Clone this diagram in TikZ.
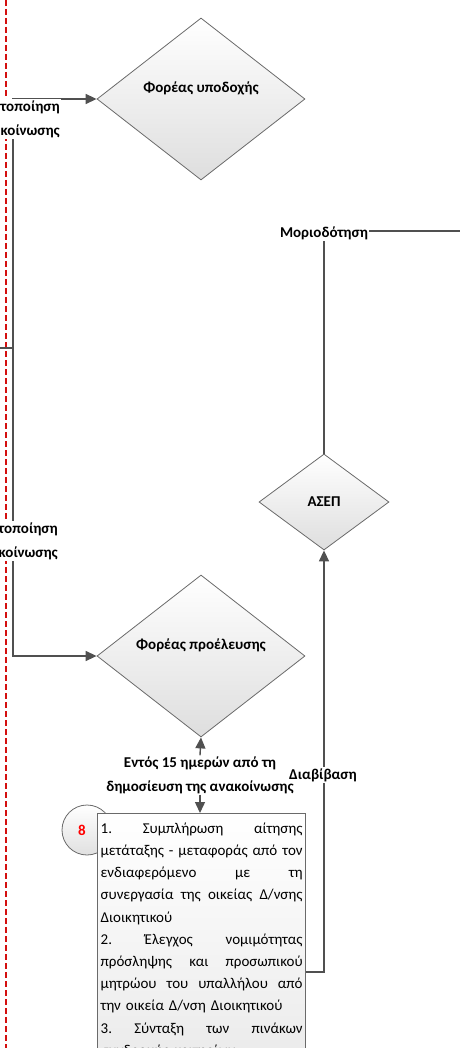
\documentclass[tikz,border=0pt]{standalone}
\usepackage{fontspec}
\setmainfont{Carlito}
\usetikzlibrary{shapes.geometric,arrows.meta,positioning}
\definecolor{linegray}{HTML}{505050}
\definecolor{edgegray}{HTML}{6A6A6A}
\definecolor{lanered}{HTML}{D41010}
\newcommand{\jrow}[1]{\leavevmode\hbox to 202pt{#1}}

\tikzset{
  decision/.style={diamond, draw=edgegray, line width=0.8pt, top color=white, bottom color=black!13, inner sep=0pt},
  lbl/.style={font=\bfseries\fontsize{15}{24}\selectfont, align=center, inner sep=1pt},
  flow/.style={draw=linegray, line width=1.4pt},
  arr/.style={flow, -{Triangle[length=11pt,width=10pt]}},
  taskbox/.style={draw=edgegray, line width=1.3pt, top color=white, bottom color=black!9, text width=202pt, inner xsep=3pt, inner ysep=9pt, align=left, font=\fontsize{15}{22.2}\selectfont},
  marker/.style={circle, draw=edgegray, line width=0.8pt, top color=white, bottom color=black!12, minimum size=50pt, inner sep=0pt},
  lane/.style={draw=lanered, line width=2pt, dash pattern=on 6pt off 3pt}
}

\begin{document}
\begin{tikzpicture}[x=1pt,y=-1pt]
\useasboundingbox (0,0) rectangle (460,1048);

% lane border
\coordinate (laneTop) at (6,0);
\coordinate (laneBot) at (6,1048);
\draw[lane] (laneTop) -- (laneBot);

% decisions
\node[decision, minimum width=208pt, minimum height=162pt, label={[lbl, yshift=11pt]center:Φορέας υποδοχής}] (recv) at (201,99) {};
\node[decision, minimum width=208pt, minimum height=162pt, label={[lbl, yshift=11pt]center:Φορέας προέλευσης}] (orig) at (201,656) {};
\node[decision, minimum width=130pt, minimum height=96pt, font=\bfseries\fontsize{15}{18}\selectfont] (asep) at (324,502) {ΑΣΕΠ};

% step 8
\node[marker, label={[text=red, font=\bfseries\fontsize{15}{18}\selectfont, xshift=-5pt]center:8}] (num8) at (87,830) {};
\node[taskbox, anchor=north west] (task8) at (97,813) {%
\jrow{1.\hfill Συμπλήρωση\hfill αίτησης}\\
\jrow{μετάταξης\hfill -\hfill μεταφοράς\hfill από\hfill τον}\\
\jrow{ενδιαφερόμενο\hfill με\hfill τη}\\
\jrow{συνεργασία\hfill της\hfill οικείας\hfill Δ/νσης}\\
Διοικητικού\\
\jrow{2.\hfill Έλεγχος\hfill νομιμότητας}\\
\jrow{πρόσληψης\hfill και\hfill προσωπικού}\\
\jrow{μητρώου\hfill του\hfill υπαλλήλου\hfill από}\\
την οικεία Δ/νση Διοικητικού\\
\jrow{3.\hfill Σύνταξη\hfill των\hfill πινάκων}\\
συνδρομής κριτηρίων\rule[-30pt]{0pt}{30pt}};

% left route
\coordinate (laneIn) at (0,348);
\coordinate (split) at (13,348);
\draw[flow] (laneIn) -- (split);
\draw[arr] (split) |- (recv.west);
\draw[arr] (split) |- (orig.west);
\node[lbl, fill=white, align=right, anchor=east] (notice1) at (61,119) {τοποίηση\\κοίνωσης};
\node[lbl, fill=white, align=right, anchor=east] (notice2) at (59,541) {τοποίηση\\κοίνωσης};

% deadline
\node[lbl] (within) at (200,775) {Εντός 15 ημερών από τη\\δημοσίευση της ανακοίνωσης};
\draw[arr] (within.north) -- (orig.south);
\draw[arr] (within.south) -- (within.south |- task8.north);

% to ASEP and scoring
\draw[arr] (task8.north east) ++(0,159) -| (asep.south);
\node[lbl, fill=white] (send) at (323,775) {Διαβίβαση};
\coordinate (scoreOut) at (460,231);
\draw[flow] (asep.north) |- (scoreOut);
\node[lbl, fill=white] (score) at (324,233) {Μοριοδότηση};
\end{tikzpicture}
\end{document}
